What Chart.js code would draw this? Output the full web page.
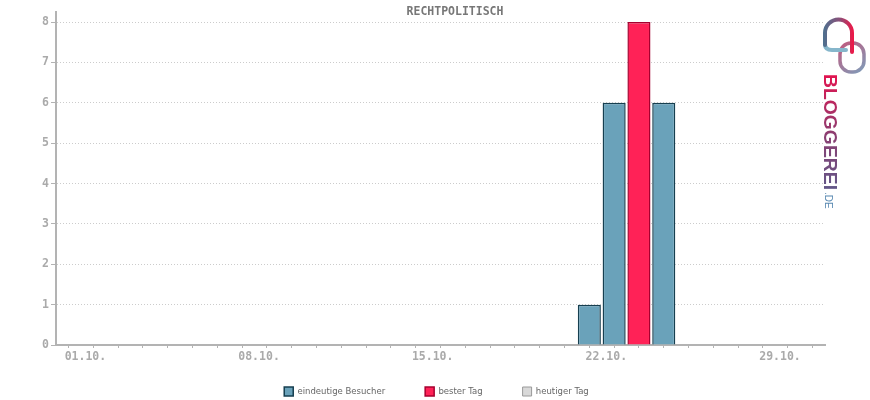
<!DOCTYPE html>
<html lang="de">
<head>
    <meta charset="UTF-8">
    <title>RECHTPOLITISCH</title>
    <script src="https://cdn.jsdelivr.net/npm/chart.js"></script>
    <style>
        body { margin: 0; background: #fff; }
        .wrapper { width: 870px; height: 400px; }
    </style>
</head>
<body>
    <div class="wrapper">
        <canvas id="besucherChart"></canvas>
    </div>
    <script>
const tage = ['01.10.', '02.10.', '03.10.', '04.10.', '05.10.', '06.10.', '07.10.',
              '08.10.', '09.10.', '10.10.', '11.10.', '12.10.', '13.10.', '14.10.',
              '15.10.', '16.10.', '17.10.', '18.10.', '19.10.', '20.10.', '21.10.',
              '22.10.', '23.10.', '24.10.', '25.10.', '26.10.', '27.10.', '28.10.',
              '29.10.', '30.10.', '31.10.'];

// eindeutige Besucher pro Tag (leer = keine Daten)
const besucher = [null, null, null, null, null, null, null,
                  null, null, null, null, null, null, null,
                  null, null, null, null, null, null, null,
                  1, 6, null, 6, null, null, null,
                  null, null, null];

const besterTag = [null, null, null, null, null, null, null,
                   null, null, null, null, null, null, null,
                   null, null, null, null, null, null, null,
                   null, null, 8, null, null, null, null,
                   null, null, null];

const heutigerTag = [null, null, null, null, null, null, null,
                     null, null, null, null, null, null, null,
                     null, null, null, null, null, null, null,
                     null, null, null, null, null, null, null,
                     null, null, null];

const yTicks = [0, 1, 2, 3, 4, 5, 6, 7, 8];

const monoFont = { family: 'DejaVu Sans Mono', size: 11.5, weight: 'bold' };

// Legende ueber die ganze Breite und etwas hoeher (Abstand zwischen den Eintraegen = padding)
const legendeVerschieben = {
    id: 'legendeVerschieben',
    afterLayout(chart) {
        const lg = chart.legend;
        lg.left = 3;
        lg.right = 870;
        lg.width = 867;
        lg.top = 347;
        lg.bottom = 400;
        lg.height = 53;
    }
};

// Titel und Logo direkt auf den Canvas
const extras = {
    id: 'extras',
    afterDraw(chart) {
        const ctx = chart.ctx;
        ctx.save();
        ctx.font = 'bold 11.5px "DejaVu Sans Mono"';
        ctx.fillStyle = '#777';
        ctx.textAlign = 'center';
        ctx.textBaseline = 'middle';
        ctx.fillText('RECHTPOLITISCH', 455, 12);

        // Logo: Schleifen
        let g = ctx.createLinearGradient(840, 43, 864, 72);
        g.addColorStop(0, '#c05a7e');
        g.addColorStop(1, '#7f9cb9');
        ctx.strokeStyle = g;
        ctx.lineWidth = 3.5;
        ctx.beginPath();
        ctx.roundRect(840, 43, 24, 29, 11);
        ctx.stroke();

        ctx.lineCap = 'round';
        ctx.strokeStyle = '#86b6cb';
        ctx.lineWidth = 4;
        ctx.beginPath();
        ctx.moveTo(825, 44);
        ctx.quadraticCurveTo(825, 50, 832, 50);
        ctx.lineTo(846, 50);
        ctx.stroke();

        g = ctx.createLinearGradient(824, 0, 853, 0);
        g.addColorStop(0, '#4f6f8e');
        g.addColorStop(0.55, '#8b4f78');
        g.addColorStop(1, '#ec1848');
        ctx.strokeStyle = g;
        ctx.beginPath();
        ctx.moveTo(825, 45);
        ctx.lineTo(825, 33);
        ctx.arc(838.5, 33, 13.5, Math.PI, 0);
        ctx.lineTo(852, 52);
        ctx.stroke();

        // Logo: Schrift
        ctx.translate(824, 74);
        ctx.rotate(Math.PI / 2);
        ctx.textAlign = 'left';
        ctx.textBaseline = 'alphabetic';
        ctx.font = 'bold 18px "Liberation Sans"';
        const w = ctx.measureText('BLOGGEREI').width;
        g = ctx.createLinearGradient(0, 0, 116, 0);
        g.addColorStop(0, '#e3134f');
        g.addColorStop(0.5, '#8a3f72');
        g.addColorStop(1, '#5b5b8c');
        ctx.fillStyle = g;
        ctx.save();
        ctx.scale(116 / w, 1);
        ctx.fillText('BLOGGEREI', 0, 0);
        ctx.restore();
        ctx.font = '10px "Liberation Sans"';
        ctx.fillStyle = '#5a8ab2';
        ctx.fillText('.DE', 118, -1);
        ctx.restore();
    }
};

new Chart(document.getElementById('besucherChart'), {
    type: 'bar',
    data: {
        labels: tage,
        datasets: [
            {
                label: 'eindeutige Besucher',
                data: besucher,
                backgroundColor: '#6aa2ba',
                borderColor: '#163f50',
                borderWidth: 1.5,
                barPercentage: 0.93,
                categoryPercentage: 1
            },
            {
                label: 'bester Tag',
                data: besterTag,
                backgroundColor: '#ff2257',
                borderColor: '#a6002f',
                borderWidth: 1.5,
                barPercentage: 0.93,
                categoryPercentage: 1
            },
            {
                label: 'heutiger Tag',
                data: heutigerTag,
                backgroundColor: '#d9d9d9',
                borderColor: '#9a9a9a',
                borderWidth: 1,
                barPercentage: 0.93,
                categoryPercentage: 1
            }
        ]
    },
    options: {
        responsive: true,
        maintainAspectRatio: false,
        animation: false,
        layout: { padding: { top: 12, right: 45, bottom: 0, left: 0 } },
        plugins: {
            title: { display: false },
            tooltip: { enabled: false },
            legend: {
                position: 'bottom',
                maxHeight: 25,
                labels: {
                    boxWidth: 9,
                    boxHeight: 9,
                    padding: 40,
                    color: '#666',
                    font: { family: 'DejaVu Sans', size: 8.5 }
                }
            }
        },
        scales: {
            x: {
                stacked: true,
                z: 1,
                afterFit: s => { s.height = 30; },
                grid: {
                    offset: false,
                    drawOnChartArea: false,
                    drawTicks: true,
                    tickLength: 3,
                    tickColor: '#b3b3b3',
                    tickBorderDash: []
                },
                border: { color: '#b3b3b3', width: 2 },
                ticks: {
                    autoSkip: false,
                    maxRotation: 0,
                    padding: 2,
                    labelOffset: 17,
                    color: '#aaa',
                    font: monoFont,
                    callback: (v, i) => (i % 7 === 0 ? tage[i] : '')
                }
            },
            y: {
                stacked: true,
                min: 0,
                max: 8.25,
                afterFit: s => { s.width = 56; },
                afterBuildTicks: s => { s.ticks = yTicks.map(v => ({ value: v })); },
                grid: {
                    color: '#cccccc',
                    tickLength: 5,
                    tickColor: '#b3b3b3',
                    tickBorderDash: []
                },
                border: { color: '#b3b3b3', width: 2, dash: [1, 2] },
                ticks: {
                    padding: 2,
                    color: '#aaa',
                    font: monoFont
                }
            }
        }
    },
    plugins: [extras, legendeVerschieben]
});
    </script>
</body>
</html>
